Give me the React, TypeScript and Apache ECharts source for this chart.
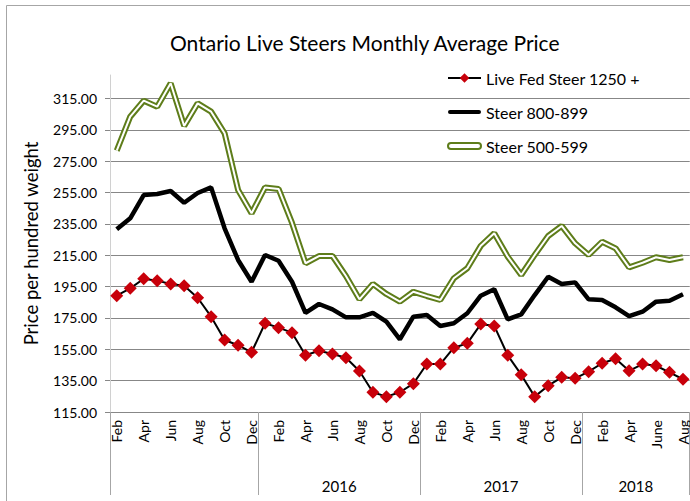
import React, { useEffect, useRef } from 'react';
import * as echarts from 'echarts';

// Feb 2015 .. Aug 2018
const months = [
  'Feb', 'Mar', 'Apr', 'May', 'Jun', 'Jul', 'Aug', 'Sep', 'Oct', 'Nov', 'Dec',
  'Jan', 'Feb', 'Mar', 'Apr', 'May', 'Jun', 'Jul', 'Aug', 'Sep', 'Oct', 'Nov', 'Dec',
  'Jan', 'Feb', 'Mar', 'Apr', 'May', 'Jun', 'Jul', 'Aug', 'Sep', 'Oct', 'Nov', 'Dec',
  'Jan', 'Feb', 'Mar', 'Apr', 'May', 'June', 'Jul', 'Aug',
];
const years = ['', '2016', '2017', '2018'];

const liveFed = [
  189.2, 193.9, 200.0, 198.8, 196.7, 195.6, 187.9, 175.8, 160.9, 157.6, 153.1,
  171.6, 168.8, 165.6, 151.2, 154.1, 152.0, 149.6, 141.2, 127.6, 124.8, 127.6, 133.1,
  145.6, 145.6, 156.0, 158.8, 171.1, 169.9, 151.2, 138.8, 124.8, 131.8, 137.1, 136.5,
  140.7, 146.1, 149.0, 141.3, 145.6, 144.5, 140.3, 135.9,
];
const steer800 = [
  231.6, 238.6, 253.4, 254.1, 256.0, 248.5, 254.7, 258.3, 232.2, 212.0, 198.1,
  215.2, 211.5, 198.1, 178.3, 183.9, 180.5, 175.4, 175.4, 178.3, 172.6, 161.4, 175.8,
  176.9, 169.9, 171.6, 178.0, 189.2, 193.3, 174.1, 177.3, 189.6, 201.3, 196.7, 197.7,
  186.9, 186.5, 181.8, 176.2, 179.0, 185.4, 186.0, 190.1,
];
const steer500 = [
  281.7, 303.4, 313.6, 309.8, 324.7, 297.5, 311.9, 306.6, 292.8, 256.6, 241.8,
  258.3, 257.3, 235.6, 209.9, 214.5, 214.5, 201.8, 186.9, 196.7, 190.3, 185.4, 191.7,
  189.0, 186.5, 200.3, 206.7, 221.0, 229.0, 214.1, 202.4, 215.2, 227.3, 233.7, 222.6,
  215.2, 223.6, 219.4, 207.3, 210.2, 213.7, 212.0, 213.7,
];
const yTicks = [115, 135, 155, 175, 195, 215, 235, 255, 275, 295, 315];

const OLIVE = '#5E7D1A';

export default function App() {
  const ref = useRef<HTMLDivElement>(null);
  useEffect(() => {
    if (!ref.current) return;
    const chart = echarts.init(ref.current, null, { renderer: 'svg' });

    // year group boundaries (index where January starts)
    const bounds: number[] = [0];
    months.forEach((m, i) => { if (m === 'Jan') bounds.push(i); });
    bounds.push(months.length);
    const centers: number[] = [];
    const centerYear: Record<string, string> = {};
    for (let g = 0; g < bounds.length - 1; g++) {
      if (years[g]) {
        const c = (bounds[g] + bounds[g + 1]) / 2;
        centers.push(c);
        centerYear[String(c)] = years[g];
      }
    }

    const font = 'Lato';
    chart.setOption({
      animation: false,
      textStyle: { fontFamily: font },
      title: {
        text: 'Ontario Live Steers Monthly Average Price',
        left: 170,
        top: 32,
        padding: 0,
        textStyle: { fontFamily: font, fontSize: 21, fontWeight: 'normal', color: '#000' },
      },
      graphic: [
        {
          type: 'rect',
          shape: { x: 6.5, y: 5.5, width: 720, height: 520 },
          style: { fill: 'none', stroke: '#a6a6a6', lineWidth: 1 },
          silent: true,
          z: -10,
        },
      ],
      legend: {
        orient: 'vertical',
        left: 447,
        top: 70,
        padding: 0,
        itemWidth: 33,
        itemHeight: 12,
        itemGap: 18,
        textStyle: { fontFamily: font, fontSize: 16, color: '#000' },
        data: [
          { name: 'Live Fed Steer 1250 +' },
          {
            name: 'Steer 800-899',
            icon: 'path://M2,0 L31,0 A2,2 0 0 1 31,4 L2,4 A2,2 0 0 1 2,0 Z',
            itemStyle: { color: '#000', borderWidth: 0 },
          },
          {
            name: 'Steer 500-599',
            icon: 'path://M3,0 L30,0 A3,3 0 0 1 30,6 L3,6 A3,3 0 0 1 3,0 Z',
            itemStyle: { color: '#fff', borderColor: OLIVE, borderWidth: 2 },
          },
        ],
      },
      grid: { left: 110, right: 0, top: 75, bottom: 89, containLabel: false },
      xAxis: [
        {
          type: 'category',
          data: months,
          boundaryGap: true,
          position: 'bottom',
          axisLine: { lineStyle: { color: '#878787', width: 1 } },
          axisTick: { interval: 0, length: 48, lineStyle: { color: '#d9d9d9' } },
          axisLabel: { interval: 1, rotate: 90, margin: 8, fontSize: 14, color: '#000', fontFamily: font },
          splitLine: { show: false },
        },
        {
          type: 'value',
          min: 0,
          max: months.length,
          position: 'bottom',
          axisLine: { show: false },
          axisTick: { show: true, length: 83, customValues: bounds, lineStyle: { color: '#a6a6a6' } },
          axisLabel: {
            customValues: centers,
            margin: 66,
            fontSize: 15,
            color: '#000',
            fontFamily: font,
            formatter: (v: number) => centerYear[String(v)] || '',
          },
          splitLine: { show: false },
        },
      ],
      yAxis: {
        type: 'value',
        min: 115,
        max: 330,
        interval: 20,
        name: 'Price per hundred weight',
        nameLocation: 'middle',
        nameGap: 70,
        nameTextStyle: { fontFamily: font, fontSize: 18.5, color: '#000' },
        axisLine: { show: true, lineStyle: { color: '#d0d0d0' } },
        axisTick: { show: true, length: 5, customValues: yTicks, lineStyle: { color: '#878787' } },
        axisLabel: {
          customValues: yTicks,
          margin: 13,
          fontSize: 14,
          color: '#000',
          fontFamily: font,
          formatter: (v: number) => v.toFixed(2),
        },
        splitLine: { show: true, lineStyle: { color: '#878787', width: 1 } },
      },
      series: [
        {
          name: 'Steer 500-599',
          type: 'line',
          data: steer500,
          symbol: 'none',
          clip: false,
          lineStyle: { color: OLIVE, width: 6 },
          itemStyle: { color: OLIVE },
          z: 2,
        },
        {
          name: '_inner500',
          type: 'line',
          data: steer500,
          symbol: 'none',
          clip: false,
          silent: true,
          lineStyle: { color: '#ffffff', width: 2 },
          itemStyle: { color: '#ffffff' },
          z: 3,
        },
        {
          name: 'Steer 800-899',
          type: 'line',
          data: steer800,
          symbol: 'none',
          lineStyle: { color: '#000', width: 4.5 },
          itemStyle: { color: '#000' },
          z: 4,
        },
        {
          name: 'Live Fed Steer 1250 +',
          type: 'line',
          data: liveFed,
          symbol: 'diamond',
          symbolSize: 13,
          showSymbol: true,
          showAllSymbol: true,
          lineStyle: { color: '#000', width: 2 },
          itemStyle: { color: '#C8000A' },
          z: 5,
        },
      ],
    });
    return () => chart.dispose();
  }, []);
  return (
    <div
      ref={ref}
      style={{ position: 'fixed', left: 0, top: 0, width: 690, height: 501, background: '#fff' }}
    />
  );
}
